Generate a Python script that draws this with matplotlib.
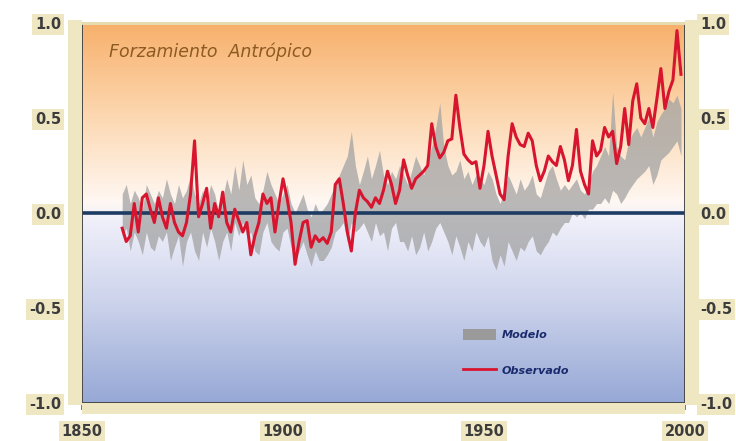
import numpy as np
import matplotlib
matplotlib.use("Agg")
import matplotlib.pyplot as plt
from matplotlib.colors import LinearSegmentedColormap
from matplotlib.patches import Patch, Rectangle
from matplotlib.lines import Line2D
from matplotlib.ticker import MultipleLocator

# ---- data: temperature anomaly (°C), 1860-1999 ----
years = list(range(1860, 2000))

observado = [
    -0.08, -0.15, -0.12, 0.05, -0.10, 0.08, 0.10, 0.02, -0.05, 0.08,
    -0.02, -0.08, 0.05, -0.05, -0.10, -0.12, -0.05, 0.10, 0.38, -0.02,
    0.05, 0.13, -0.08, 0.05, -0.02, 0.11, -0.05, -0.10, 0.02, -0.04,
    -0.10, -0.05, -0.22, -0.12, -0.05, 0.10, 0.05, 0.08, -0.10, 0.05,
    0.18, 0.08, -0.05, -0.27, -0.15, -0.05, -0.04, -0.18, -0.12, -0.15,
    -0.13, -0.16, -0.10, 0.15, 0.18, 0.05, -0.10, -0.20, 0.00, 0.12,
    0.08, 0.06, 0.03, 0.08, 0.05, 0.12, 0.22, 0.15, 0.05, 0.12,
    0.28, 0.20, 0.13, 0.18, 0.20, 0.22, 0.25, 0.47, 0.35, 0.29,
    0.32, 0.38, 0.39, 0.62, 0.45, 0.31, 0.28, 0.26, 0.27, 0.13,
    0.25, 0.43, 0.30, 0.20, 0.10, 0.07, 0.30, 0.47, 0.40, 0.36,
    0.35, 0.42, 0.38, 0.25, 0.17, 0.22, 0.30, 0.27, 0.25, 0.35,
    0.28, 0.17, 0.25, 0.44, 0.22, 0.15, 0.10, 0.38, 0.30, 0.33,
    0.45, 0.40, 0.43, 0.26, 0.35, 0.55, 0.36, 0.59, 0.68, 0.50,
    0.47, 0.55, 0.45, 0.60, 0.76, 0.55, 0.64, 0.70, 0.96, 0.73,
]

modelo_sup = [
    0.10, 0.15, 0.05, 0.12, 0.08, 0.02, 0.15, 0.10, 0.05, 0.12,
    0.08, 0.18, 0.10, 0.05, 0.15, 0.08, 0.12, 0.20, 0.10, 0.05,
    0.12, 0.05, 0.15, 0.10, 0.00, 0.08, 0.18, 0.10, 0.25, 0.12,
    0.28, 0.15, 0.20, 0.08, 0.05, 0.12, 0.22, 0.15, 0.10, 0.05,
    0.10, 0.15, 0.05, 0.00, 0.05, 0.10, 0.02, -0.02, 0.05, 0.00,
    0.02, 0.05, 0.10, 0.15, 0.20, 0.25, 0.30, 0.43, 0.25, 0.15,
    0.22, 0.30, 0.18, 0.25, 0.33, 0.20, 0.15, 0.22, 0.18, 0.25,
    0.20, 0.15, 0.22, 0.30, 0.25, 0.20, 0.28, 0.35, 0.45, 0.58,
    0.35, 0.25, 0.20, 0.22, 0.28, 0.18, 0.22, 0.15, 0.20, 0.18,
    0.15, 0.22, 0.18, 0.10, 0.05, 0.12, 0.20, 0.15, 0.10, 0.18,
    0.12, 0.15, 0.20, 0.10, 0.08, 0.15, 0.22, 0.25, 0.18, 0.12,
    0.15, 0.12, 0.15, 0.18, 0.12, 0.10, 0.15, 0.22, 0.25, 0.30,
    0.35, 0.30, 0.64, 0.35, 0.30, 0.28, 0.38, 0.42, 0.45, 0.40,
    0.45, 0.50, 0.40, 0.48, 0.52, 0.55, 0.60, 0.58, 0.62, 0.55,
]

modelo_inf = [
    -0.12, -0.08, -0.20, -0.10, -0.15, -0.22, -0.10, -0.18, -0.20, -0.12,
    -0.15, -0.10, -0.25, -0.18, -0.12, -0.28, -0.15, -0.10, -0.20, -0.25,
    -0.10, -0.18, -0.08, -0.15, -0.25, -0.15, -0.10, -0.20, -0.05, -0.12,
    -0.05, -0.12, -0.10, -0.20, -0.22, -0.10, -0.05, -0.15, -0.18, -0.20,
    -0.10, -0.08, -0.18, -0.25, -0.20, -0.15, -0.22, -0.28, -0.20, -0.25,
    -0.25, -0.22, -0.18, -0.10, -0.08, -0.05, -0.15, -0.05, -0.10, -0.08,
    -0.05, -0.10, -0.15, -0.05, -0.12, -0.10, -0.20, -0.08, -0.05, -0.15,
    -0.15, -0.20, -0.12, -0.22, -0.18, -0.10, -0.20, -0.15, -0.08, -0.05,
    -0.10, -0.15, -0.22, -0.12, -0.18, -0.25, -0.15, -0.20, -0.10, -0.15,
    -0.18, -0.12, -0.25, -0.30, -0.22, -0.28, -0.15, -0.20, -0.25, -0.18,
    -0.20, -0.15, -0.12, -0.20, -0.22, -0.18, -0.15, -0.10, -0.12, -0.08,
    -0.05, -0.05, 0.00, -0.02, 0.00, -0.03, 0.02, 0.02, 0.05, 0.05,
    0.08, 0.05, 0.12, 0.10, 0.05, 0.08, 0.12, 0.15, 0.18, 0.20,
    0.22, 0.25, 0.15, 0.20, 0.28, 0.30, 0.32, 0.35, 0.38, 0.30,
]

x_ticks = [1850, 1900, 1950, 2000]
y_ticks = [-1.0, -0.5, 0.0, 0.5, 1.0]
y_ticklabels = ["-1.0", "-0.5", "0.0", "0.5", "1.0"]

titulo = "Forzamiento  Antrópico"
etiqueta_modelo = "Modelo"
etiqueta_obs = "Observado"

# ---- figure ----
fig = plt.figure(figsize=(7.36, 4.41), dpi=100)
fig.patch.set_facecolor("white")
ax = fig.add_axes([82 / 736, 1 - 403 / 441, 603 / 736, 380 / 441])

beige = "#efe7c2"
tick_col = "#6a6250"
label_col = "#3c3c3c"

# beige strips behind the tick areas
fig.patches.append(Rectangle((68 / 736, 1 - 405 / 441), 14 / 736, 385 / 441,
                             transform=fig.transFigure, fc=beige, ec="none", zorder=0))
fig.patches.append(Rectangle((82 / 736, 1 - 414 / 441), 603 / 736, 11 / 441,
                             transform=fig.transFigure, fc=beige, ec="none", zorder=0))
fig.patches.append(Rectangle((685 / 736, 1 - 405 / 441), 14 / 736, 385 / 441,
                             transform=fig.transFigure, fc=beige, ec="none", zorder=0))

# vertical gradient background: orange at the top, white at zero, blue at the bottom
cmap = LinearSegmentedColormap.from_list("fondo", [
    (0.00, (0.59, 0.66, 0.84)),
    (0.25, (0.79, 0.82, 0.92)),
    (0.48, (0.94, 0.94, 0.98)),
    (0.53, (1.00, 0.97, 0.95)),
    (0.75, (0.99, 0.85, 0.70)),
    (1.00, (0.97, 0.69, 0.42)),
])
grad = np.linspace(0, 1, 256).reshape(-1, 1)
ax.imshow(grad, extent=[1850, 2000, -1, 1], origin="lower", aspect="auto",
          cmap=cmap, zorder=0, interpolation="bicubic")

# model range and observations
ax.fill_between(years, modelo_inf, modelo_sup, color="#a3a3a3", alpha=0.75,
                lw=0, zorder=2)
ax.axhline(0.0, color="#1d3b63", lw=2.6, zorder=3)
ax.plot(years, observado, color="#d8152f", lw=2.2, zorder=4)

ax.set_xlim(1850, 2000)
ax.set_ylim(-1.0, 1.0)

# mirrored y axis on the right side
axr = ax.twinx()
axr.set_ylim(-1.0, 1.0)

def style_label(lab):
    lab.set_fontsize(10.5)
    lab.set_fontweight("bold")
    lab.set_color(label_col)
    lab.set_bbox(dict(boxstyle="square,pad=0.2", fc=beige, ec="none"))

for a, pad in [(ax, 8), (axr, 4)]:
    a.set_yticks(y_ticks)
    a.set_yticklabels(y_ticklabels)
    a.yaxis.set_minor_locator(MultipleLocator(0.1))
    a.tick_params(axis="y", which="both", direction="out", color=tick_col)
    a.tick_params(axis="y", which="major", length=7, width=1.2, pad=pad)
    a.tick_params(axis="y", which="minor", length=5, width=1.0)
    for lab in a.get_yticklabels():
        style_label(lab)

ax.set_xticks(x_ticks)
ax.set_xticklabels([str(v) for v in x_ticks])
ax.tick_params(axis="x", which="major", direction="out", length=5, width=1.2,
               color=tick_col, pad=10)
for lab in ax.get_xticklabels():
    style_label(lab)

for a in (ax, axr):
    for side in ["left", "right", "bottom"]:
        a.spines[side].set_color("#4a4a4a")
        a.spines[side].set_linewidth(1.2)
    a.spines["top"].set_color("#e6dcb0")
    a.spines["top"].set_linewidth(2.0)

# title inside the plot
ax.text(0.045, 0.925, titulo, transform=ax.transAxes, fontsize=12.5,
        style="italic", color="#8c5a22", ha="left", va="center")

# legend
handles = [Patch(fc="#9a9a9a", ec="none"),
           Line2D([], [], color="#d8152f", lw=2.0)]
leg = axr.legend(handles, [etiqueta_modelo, etiqueta_obs], loc="lower left",
                 bbox_to_anchor=(0.615, 0.045), frameon=False,
                 handlelength=3.0, handleheight=1.2, labelspacing=2.2,
                 handletextpad=0.5,
                 prop=dict(size=8, style="italic", weight="bold"))
for t in leg.get_texts():
    t.set_color("#1a2a6c")

fig.savefig("out.png", dpi=100, facecolor=fig.get_facecolor())
